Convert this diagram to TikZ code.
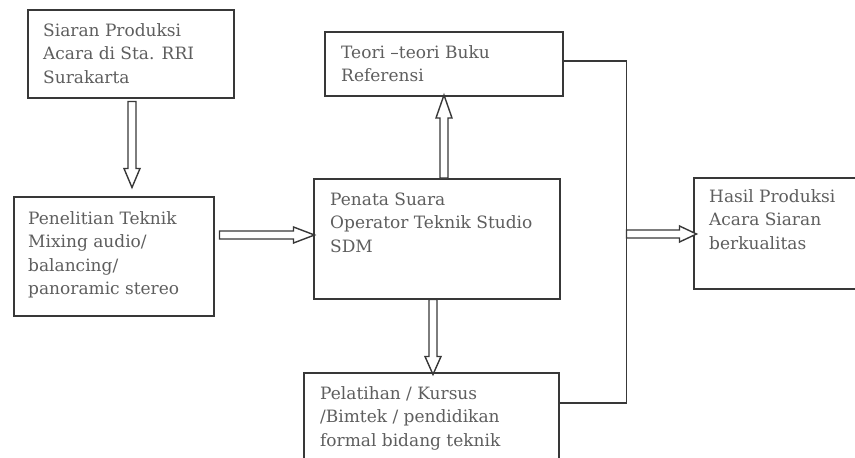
\documentclass[tikz,border=0pt]{standalone}
\usepackage{fontspec}
\setmainfont{DejaVu Serif}
\usetikzlibrary{calc}
\definecolor{txtgray}{HTML}{5E5E5E}
\definecolor{linegray}{HTML}{383838}
\tikzset{
  boxnode/.style={draw=linegray, line width=1.5pt, rectangle, inner sep=0pt, anchor=north west},
  txtnode/.style={anchor=north west, inner sep=0pt, align=left, text=txtgray,
     font={\fontsize{17}{23.5}\selectfont}},
  blk/.style={draw=linegray, fill=white, line width=1.4pt, line join=miter},
  conn/.style={draw=linegray, line width=1.5pt}
}
\newcommand\arrDown[3]{\draw[blk] (#1) ++(-4,0) -- ++(0,#2) -- ++(-4,0) -- ++(8,#3) -- ++(8,-#3) -- ++(-4,0) -- ++(0,-#2) -- cycle;}
\newcommand\arrUp[3]{\draw[blk] (#1) ++(-4,0) -- ++(0,-#2) -- ++(-4,0) -- ++(8,-#3) -- ++(8,#3) -- ++(-4,0) -- ++(0,#2) -- cycle;}
\newcommand\arrRight[3]{\draw[blk] (#1) ++(0,-4) -- ++(#2,0) -- ++(0,-4) -- ++(#3,8) -- ++(-#3,8) -- ++(0,-4) -- ++(-#2,0) -- cycle;}
\newcommand\lh{\rule{0pt}{14pt}}
\begin{document}
\begin{tikzpicture}[x=1pt,y=-1pt]
\useasboundingbox (0,0) rectangle (855,458);
\clip (0,0) rectangle (855,458);
\fill[white] (0,0) rectangle (855,458);

% boxes
\node[boxnode, minimum width=206pt, minimum height=88pt] (b1) at (27,9) {};
\node[boxnode, minimum width=200pt, minimum height=119pt] (b2) at (13,196) {};
\node[boxnode, minimum width=246pt, minimum height=120pt] (b3) at (313,178) {};
\node[boxnode, minimum width=238pt, minimum height=64pt] (b4) at (324,31) {};
\node[boxnode, minimum width=255pt, minimum height=110pt] (b5) at (303,372) {};
\node[boxnode, minimum width=180pt, minimum height=111pt] (b6) at (693,177) {};

% texts
\node[txtnode] (t1) at ($(b1.north west)+(16,13)$) {\lh Siaran Produksi\\Acara di Sta. RRI\\Surakarta};
\node[txtnode] (t2) at ($(b2.north west)+(15,14)$) {\lh Penelitian Teknik\\Mixing audio/\\balancing/\\panoramic stereo};
\node[txtnode] (t3) at ($(b3.north west)+(17,13)$) {\lh Penata Suara\\Operator Teknik Studio\\SDM};
\node[txtnode] (t4) at ($(b4.north west)+(17,13)$) {\lh Teori {\textendash}teori Buku\\Referensi};
\node[txtnode] (t5) at ($(b5.north west)+(17,13)$) {\lh Pelatihan / Kursus\\/Bimtek / pendidikan\\formal bidang teknik};
\node[txtnode] (t6) at ($(b6.north west)+(16,11)$) {\lh Hasil Produksi\\Acara Siaran\\berkualitas};

% connector line
\coordinate (j1) at ($(b4.north east)+(63,30)$);
\coordinate (j2) at ($(b5.north east)+(67,31)$);
\draw[conn] ($(b4.north east)+(0,30)$) -- (j1) -- (j2) -- ($(b5.north east)+(0,31)$);

% hollow arrows
\coordinate (a1) at ($(b1.south west)+(105,3)$);
\arrDown{a1}{67}{19}
\coordinate (a2) at ($(b2.north east)+(5,39)$);
\arrRight{a2}{74}{21}
\coordinate (a3) at ($(b3.north west)+(131,0)$);
\arrUp{a3}{60}{23}
\coordinate (a4) at ($(b3.south west)+(120,0)$);
\arrDown{a4}{57}{18}
\coordinate (a5) at ($(j1)+(0,173)$);
\arrRight{a5}{53}{17}
\end{tikzpicture}
\end{document}
